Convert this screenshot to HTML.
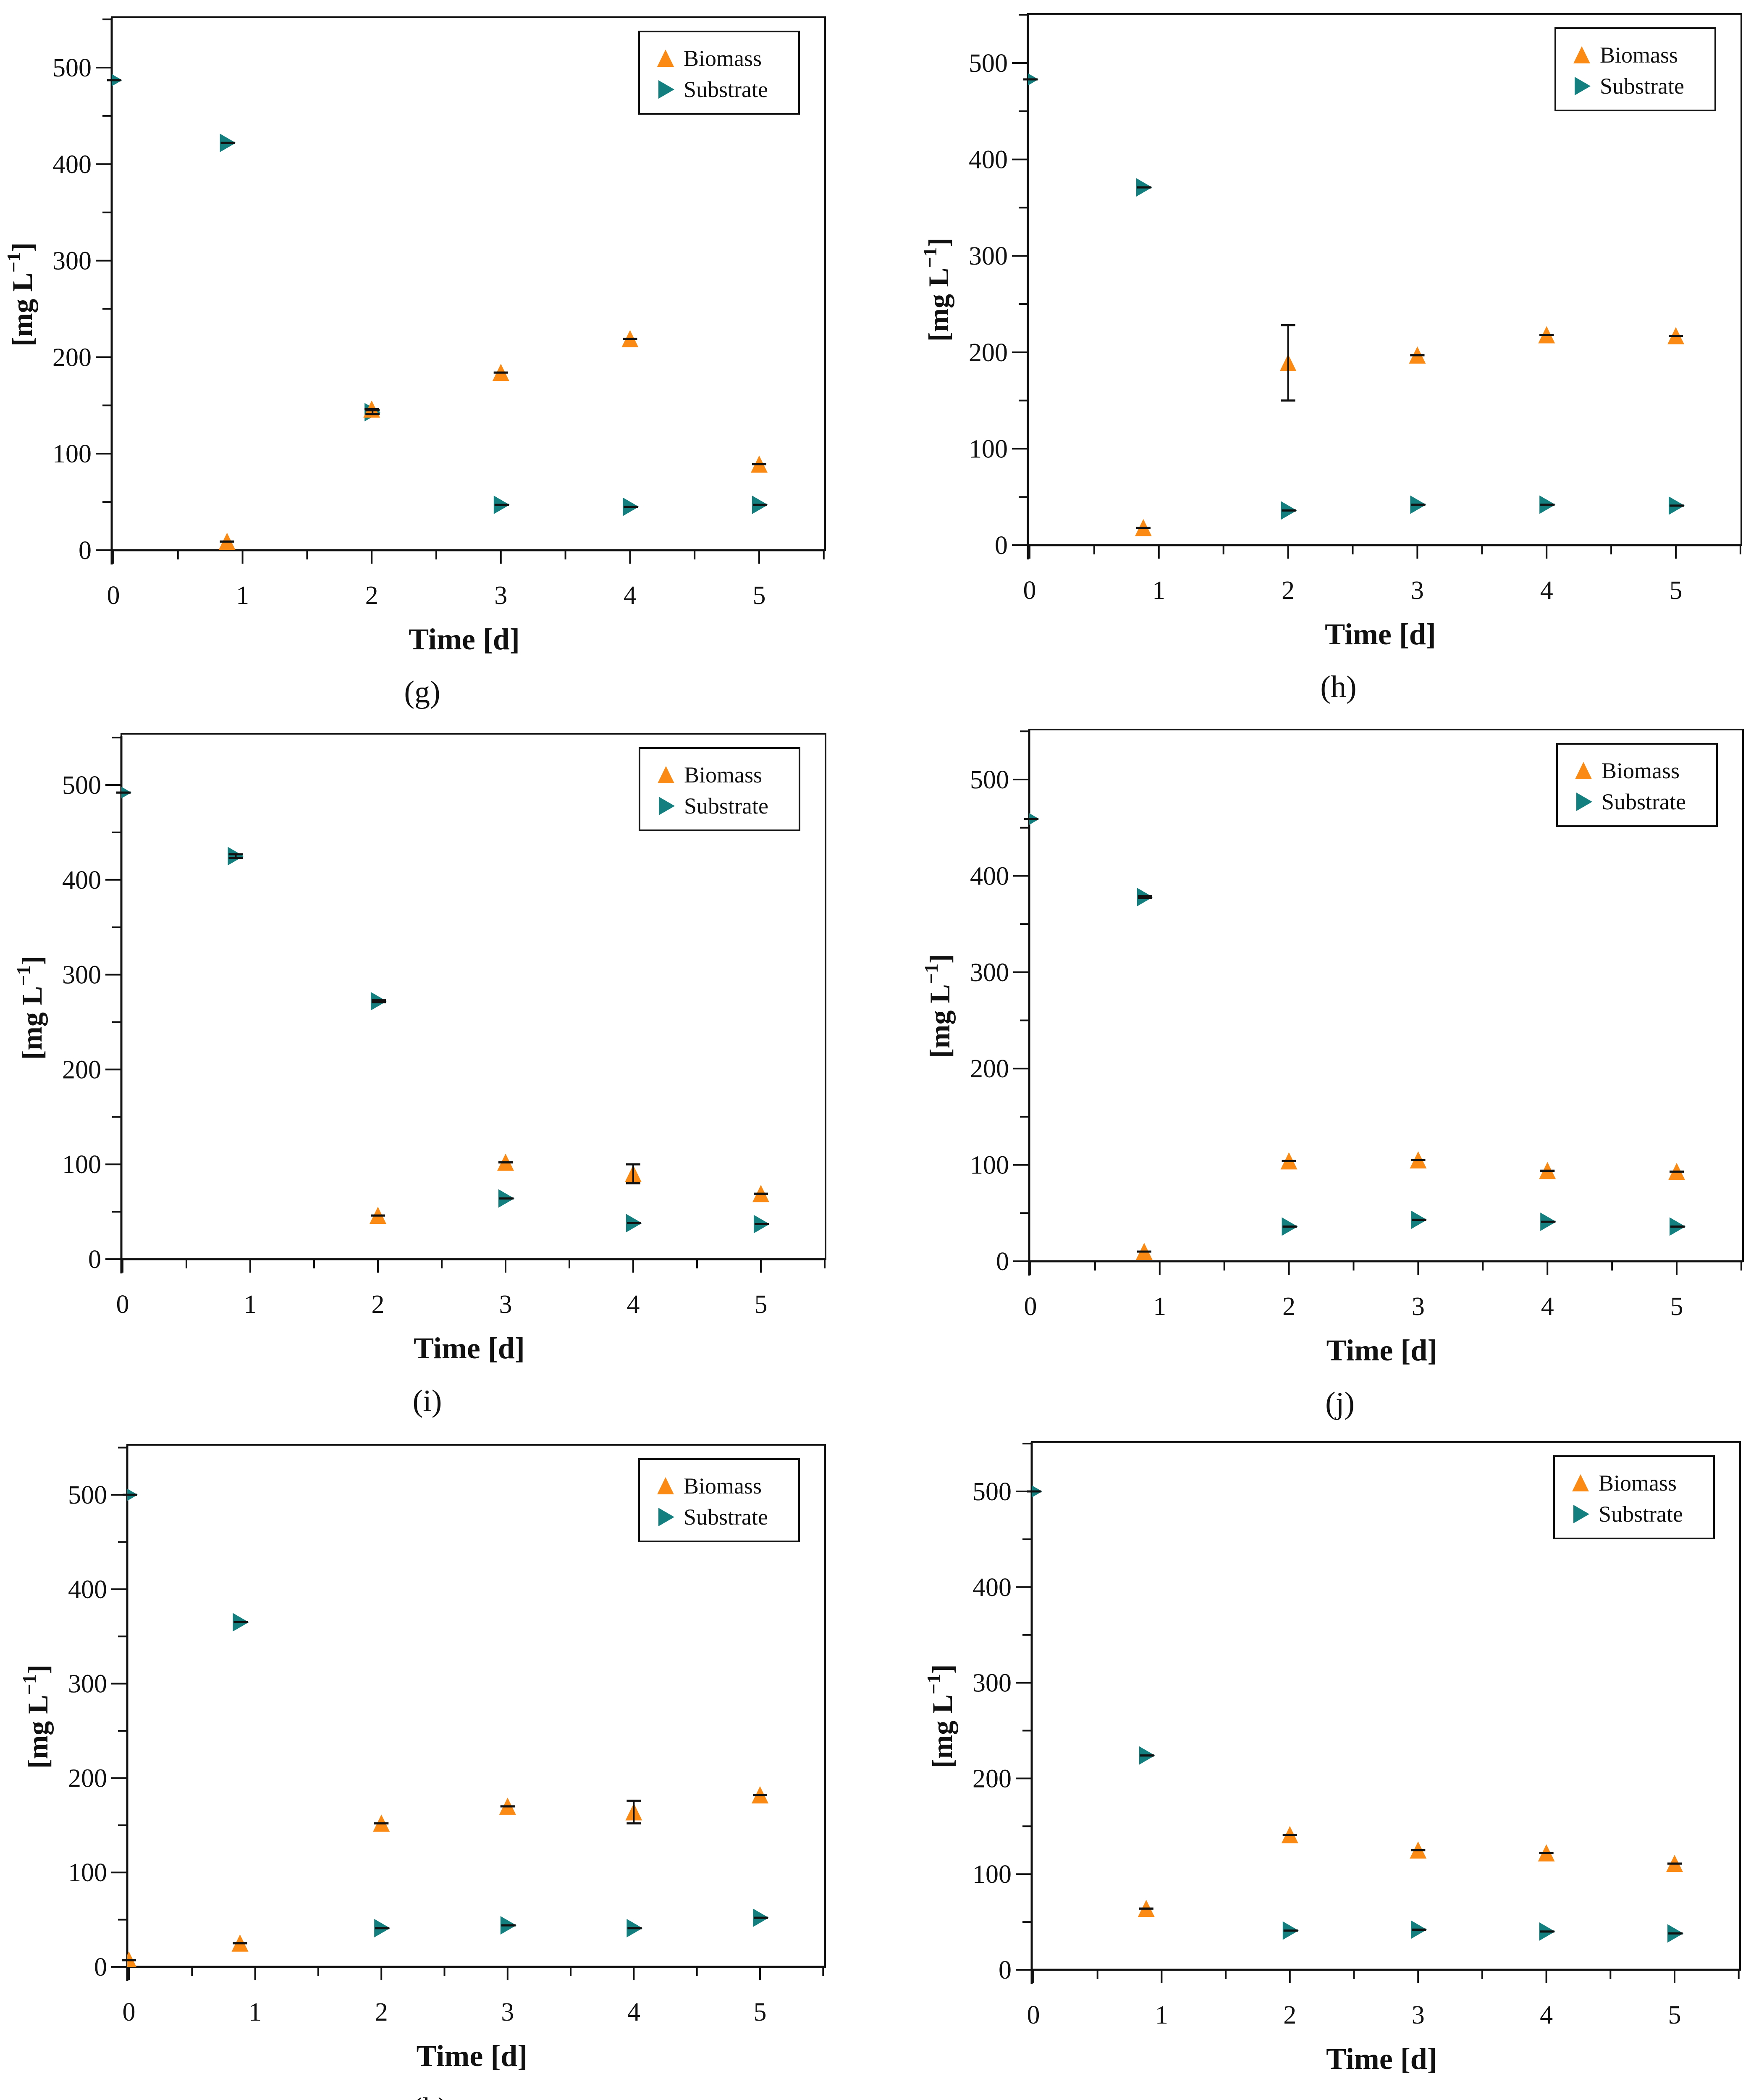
<!DOCTYPE html>
<html><head><meta charset="utf-8"><style>
html,body{margin:0;padding:0;background:#fff;width:4170px;height:5076px;overflow:hidden;}
svg{display:block;position:absolute;left:0;top:0;}
text{font-family:"Liberation Serif",serif;fill:#111;}
</style></head>
<body>
<svg id="fig" width="4170" height="5076" viewBox="0 0 4170 5076" xmlns="http://www.w3.org/2000/svg"></svg>
<script>
// ---- data ----
const days = [0, 0.88, 2, 3, 4, 5];
const yTicks = [0, 100, 200, 300, 400, 500];
const xTicks = [0, 1, 2, 3, 4, 5];
const gBiomass = [-10, 9, 146, 184, 219, 89];
const gBiomassSd = [0, 0, 0, 0, 0, 0];
const gSubstrate = [487, 422, 143, 47, 45, 47];
const gSubstrateSd = [0, 0, 2, 0, 0, 0];
const hBiomass = [-10, 18, 189, 197, 218, 217];
const hBiomassSd = [0, 0, 39, 0, 0, 0];
const hSubstrate = [483, 371, 36, 42, 42, 41];
const hSubstrateSd = [0, 0, 0, 0, 0, 0];
const iBiomass = [-10, null, 46, 102, 90, 69];
const iBiomassSd = [0, 0, 0, 0, 10, 0];
const iSubstrate = [492, 425, 272, 64, 38, 37];
const iSubstrateSd = [0, 2, 1, 0, 0, 0];
const jBiomass = [-10, 10, 104, 105, 94, 93];
const jBiomassSd = [0, 0, 0, 0, 0, 0];
const jSubstrate = [459, 378, 36, 43, 41, 36];
const jSubstrateSd = [0, 1, 0, 0, 0, 0];
const kBiomass = [7, 25, 152, 170, 164, 182];
const kBiomassSd = [0, 0, 0, 0, 12, 0];
const kSubstrate = [500, 365, 41, 44, 41, 52];
const kSubstrateSd = [0, 0, 0, 0, 0, 0];
const lBiomass = [-10, 64, 141, 125, 122, 111];
const lBiomassSd = [0, 0, 0, 0, 0, 0];
const lSubstrate = [500, 224, 41, 42, 40, 38];
const lSubstrateSd = [0, 0, 0, 0, 0, 0];

const NS = "http://www.w3.org/2000/svg";
const svg = document.getElementById("fig");
function mk(tag, attrs, parent) {
  const e = document.createElementNS(NS, tag);
  for (const k in attrs) e.setAttribute(k, attrs[k]);
  (parent || svg).appendChild(e);
  return e;
}
const ORANGE = "#fb8a14", TEAL = "#13807f";

const panels = [
  {id:"g", x0:270, x5:1808, y0:1310, y500:161, L:266, R:1965, T:41, bio:gBiomass, bioSd:gBiomassSd, sub:gSubstrate, subSd:gSubstrateSd},
  {id:"h", x0:2452, x5:3991, y0:1298, y500:150, L:2448, R:4147, T:33, bio:hBiomass, bioSd:hBiomassSd, sub:hSubstrate, subSd:hSubstrateSd},
  {id:"i", x0:292, x5:1812, y0:2998, y500:1869, L:289, R:1966, T:1747, bio:iBiomass, bioSd:iBiomassSd, sub:iSubstrate, subSd:iSubstrateSd},
  {id:"j", x0:2454, x5:3993, y0:3003, y500:1856, L:2451, R:4151, T:1737, bio:jBiomass, bioSd:jBiomassSd, sub:jSubstrate, subSd:jSubstrateSd},
  {id:"k", x0:307, x5:1810, y0:4683, y500:3559, L:303, R:1965, T:3440, bio:kBiomass, bioSd:kBiomassSd, sub:kSubstrate, subSd:kSubstrateSd},
  {id:"l", x0:2461, x5:3988, y0:4690, y500:3551, L:2457, R:4144, T:3433, bio:lBiomass, bioSd:lBiomassSd, sub:lSubstrate, subSd:lSubstrateSd}
];

function upTri(g, cx, cy, fill) {
  return mk("polygon", {points:`${cx-20},${cy+20} ${cx+20},${cy+20} ${cx},${cy-21}`, fill:fill}, g);
}
function rightTri(g, cx, cy, fill) {
  return mk("polygon", {points:`${cx-17},${cy-22} ${cx-17},${cy+22} ${cx+21},${cy}`, fill:fill}, g);
}

panels.forEach(p => {
  const sx = v => p.x0 + v * (p.x5 - p.x0) / 5;
  const sy = v => p.y0 - v * (p.y0 - p.y500) / 500;
  const g = mk("g", {});
  
  

  const clipId = "clip-" + p.id;
  const cp = mk("clipPath", {id: clipId}, g);
  mk("rect", {x:p.L, y:p.T, width:p.R-p.L, height:p.y0-p.T}, cp);

  const frame = mk("rect", {x:p.L, y:p.T, width:p.R-p.L, height:p.y0-p.T, fill:"none", stroke:"#111", "stroke-width":4}, g);
  
  
  mk("line", {x1:p.L, y1:p.y0+34, x2:p.L, y2:sy(550)-4, stroke:"#111", "stroke-width":5}, g);
  mk("line", {x1:p.L, y1:p.y0, x2:p.R, y2:p.y0, stroke:"#111", "stroke-width":5}, g);

  for (let v = 0; v <= 550; v += 50) {
    const major = v % 100 === 0;
    mk("line", {x1:p.L - (major ? 38 : 22), y1:sy(v), x2:p.L, y2:sy(v), stroke:"#111", "stroke-width":4}, g);
  }
  yTicks.forEach(v => {
    const t = mk("text", {x:p.L-48, y:sy(v)+21, "text-anchor":"end", "font-size":62}, g);
    t.textContent = v;
    
    
  });
  for (let d = 0; d <= 5.5; d += 0.5) {
    const major = d % 1 === 0;
    mk("line", {x1:sx(d), y1:p.y0, x2:sx(d), y2:p.y0 + (major ? 32 : 22), stroke:"#111", "stroke-width":4}, g);
  }
  xTicks.forEach(v => {
    const t = mk("text", {x:sx(v), y:p.y0+128, "text-anchor":"middle", "font-size":62}, g);
    t.textContent = v;
    
    
  });
  const cx = (p.L + p.R) / 2 - 10;
  const xt = mk("text", {x:cx, y:p.y0+236, "text-anchor":"middle", "font-size":72, "font-weight":"bold"}, g);
  xt.textContent = "Time [d]";
  
  
  const pl = mk("text", {x:(p.L+p.R)/2 - 110, y:p.y0+362, "text-anchor":"middle", "font-size":74}, g);
  pl.textContent = "(" + p.id + ")";
  
  

  const yl = mk("text", {x:0, y:0, "text-anchor":"middle", "font-size":68, "font-weight":"bold",
    transform:`translate(${p.L-190},${sy(265)}) rotate(-90)`}, g);
  
  
  const t1 = mk("tspan", {}, yl); t1.textContent = "[mg L";
  const t2 = mk("tspan", {"font-size":46, dy:-28}, yl); t2.textContent = "−1";
  const t3 = mk("tspan", {dy:28}, yl); t3.textContent = "]";

  const mg = mk("g", {"clip-path":`url(#${clipId})`}, g);
  p.sub.forEach((v, i) => {
    if (v === null) return;
    const m = rightTri(mg, sx(days[i]), sy(v), TEAL);
    
    
  });
  p.bio.forEach((v, i) => {
    if (v === null) return;
    const m = upTri(mg, sx(days[i]), sy(v), ORANGE);
    
    
  });
  function err(vals, sds, off) {
    vals.forEach((v, i) => {
      if (v === null || v < 0) return;
      const x = sx(days[i]) + off, s = sds[i];
      const eg = mk("g", {stroke:"#111", "stroke-width":5}, g);
      
      
      if (s > 0) mk("line", {x1:x, y1:sy(v+s), x2:x, y2:sy(v-s), "stroke-width":4}, eg);
      mk("line", {x1:x-17, y1:sy(v+s), x2:x+17, y2:sy(v+s)}, eg);
      mk("line", {x1:x-17, y1:sy(v-s), x2:x+17, y2:sy(v-s)}, eg);
    });
  }
  err(p.sub, p.subSd, 2);
  err(p.bio, p.bioSd, 0);

  const lx = p.R - 443, ly = p.T + 34;
  const lg = mk("g", {}, g);
  
  
  mk("rect", {x:lx, y:ly, width:381, height:196, fill:"#fff", stroke:"#111", "stroke-width":4}, lg);
  const e1 = mk("g", {}, lg);
  
  
  upTri(e1, lx+63, ly+64, ORANGE);
  const lt1 = mk("text", {x:lx+106, y:ly+82, "font-size":54}, e1); lt1.textContent = "Biomass";
  const e2 = mk("g", {}, lg);
  
  
  rightTri(e2, lx+63, ly+138, TEAL);
  const lt2 = mk("text", {x:lx+106, y:ly+156, "font-size":54}, e2); lt2.textContent = "Substrate";
});
</script>
</body></html>
